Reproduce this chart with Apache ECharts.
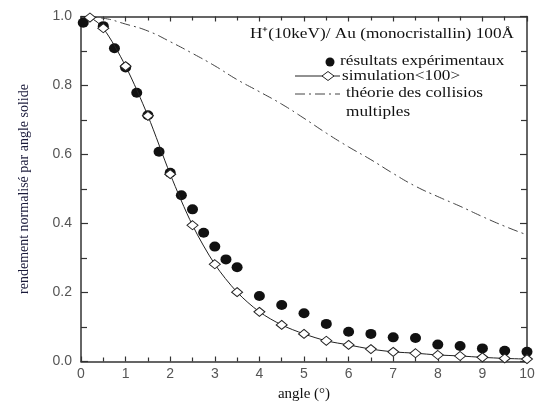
<!DOCTYPE html>
<html><head><meta charset="utf-8">
<script src="https://cdn.jsdelivr.net/npm/echarts@6/dist/echarts.min.js"></script>
<style>html,body{margin:0;padding:0;background:#fff}#c{width:539px;height:403px}</style>
</head><body><div id="c"></div>
<script>
// experimental results (filled dots)
const expX = [0.05,0.5,0.75,1.0,1.25,1.5,1.75,2.0,2.25,2.5,2.75,3.0,3.25,3.5,4,4.5,5,5.5,6,6.5,7,7.5,8,8.5,9,9.5,10];
const expY = [0.982,0.972,0.908,0.852,0.779,0.714,0.608,0.547,0.482,0.441,0.373,0.333,0.296,0.273,0.190,0.164,0.140,0.109,0.086,0.080,0.070,0.068,0.049,0.045,0.038,0.031,0.028];
// simulation <100> (open diamonds)
const simX = [0,0.2,0.5,1,1.5,2,2.5,3,3.5,4,4.5,5,5.5,6,6.5,7,7.5,8,8.5,9,9.5,10];
const simY = [1.0,0.997,0.966,0.856,0.712,0.543,0.395,0.282,0.201,0.144,0.106,0.080,0.060,0.048,0.036,0.028,0.024,0.019,0.016,0.012,0.009,0.007];
// multiple collision theory (dash-dot)
const theoX = [0,0.5,1,1.5,2,2.5,3,3.5,4,4.5,5,5.5,6,6.5,7,7.5,8,8.5,9,9.5,10];
const theoY = [1.0,0.995,0.978,0.958,0.927,0.893,0.857,0.817,0.782,0.746,0.705,0.662,0.622,0.585,0.545,0.508,0.478,0.450,0.420,0.392,0.367];
const xTicks = {min:0, max:10, interval:1};
const yTicks = {min:0, max:1, interval:0.2};

const zip = (a,b) => a.map((v,i)=>[v,b[i]]);
const axCol = '#333';
const serif = '"Liberation Serif", "Times New Roman", serif';
const sans = '"Liberation Sans", Arial, sans-serif';

const chart = echarts.init(document.getElementById('c'), null, {renderer:'canvas'});
const baseX = {type:'value', min:xTicks.min, max:xTicks.max, interval:xTicks.interval,
  axisLine:{show:true, onZero:false, lineStyle:{color:axCol, width:1.5}},
  axisTick:{show:true, inside:true, length:5, lineStyle:{color:axCol, width:1.2}},
  minorTick:{show:true, splitNumber:2, length:4, lineStyle:{color:axCol, width:1.2}},
  splitLine:{show:false}};
const baseY = {type:'value', min:yTicks.min, max:yTicks.max, interval:yTicks.interval,
  axisLine:{show:true, onZero:false, lineStyle:{color:axCol, width:1.5}},
  axisTick:{show:true, inside:true, length:7, lineStyle:{color:axCol, width:1.2}},
  minorTick:{show:true, splitNumber:2, length:6, lineStyle:{color:axCol, width:1.2}},
  splitLine:{show:false}};

const txt = (s, x, y) => ({type:'text', x:x, y:y, scaleX:1.15,
  style:{text:s, font:'15px '+serif, fill:'#111', verticalAlign:'middle'}});

chart.setOption({
  animation:false,
  backgroundColor:'#fff',
  grid:{left:81, right:12, top:16.5, bottom:41.5, containLabel:false, outerBoundsMode:'none'},
  xAxis:[
    Object.assign({}, baseX, {position:'bottom',
      axisLabel:{show:true, margin:6, color:'#555', fontFamily:sans, fontSize:14,
        formatter:v=>String(v)},
      name:'angle (°)', nameLocation:'middle', nameGap:24,
      nameTextStyle:{fontFamily:serif, fontSize:15, color:'#111'}}),
    Object.assign({}, baseX, {position:'top', axisLabel:{show:false}})
  ],
  yAxis:[
    Object.assign({}, baseY, {position:'left',
      axisLabel:{show:true, margin:9, color:'#555', fontFamily:sans, fontSize:14,
        formatter:v=>v.toFixed(1)},
      name:'rendement normalisé par angle solide', nameLocation:'middle', nameGap:50, nameRotate:90,
      nameTextStyle:{fontFamily:serif, fontSize:14, color:'#1a1a3a'}}),
    Object.assign({}, baseY, {position:'right', axisLabel:{show:false}})
  ],
  series:[
    {type:'line', name:'théorie', data:zip(theoX,theoY), smooth:true, showSymbol:false, symbol:'none',
      lineStyle:{color:'#444', width:1, type:[10,4,2,4]}, z:2},
    {type:'scatter', name:'exp', data:zip(expX,expY), symbol:'circle', symbolSize:[11,10],
      itemStyle:{color:'#111', opacity:1}, z:3, clip:true},
    {type:'line', name:'sim', data:zip(simX,simY).map((d,i)=> i===0 ? {value:d, symbol:'none'} : d),
      smooth:0.3, symbol:'diamond', symbolSize:[11,9], showAllSymbol:true,
      lineStyle:{color:'#222', width:1}, itemStyle:{color:'#fff', borderColor:'#222', borderWidth:1}, z:4}
  ],
  graphic:[
    txt('H⁺(10keV)/ Au (monocristallin) 100Å', 250, 34),
    {type:'circle', shape:{cx:330, cy:62, r:4.5}, style:{fill:'#111'}},
    txt('résultats expérimentaux', 340, 61),
    {type:'line', shape:{x1:295, y1:76, x2:340, y2:76}, style:{stroke:'#222', lineWidth:1}},
    {type:'polygon', shape:{points:[[322,76],[328,71.5],[334,76],[328,80.5]]}, style:{fill:'#fff', stroke:'#222', lineWidth:1}},
    txt('simulation<100>', 342, 76),
    {type:'line', shape:{x1:295, y1:94, x2:340, y2:94}, style:{stroke:'#444', lineWidth:1, lineDash:[10,4,2,4]}},
    txt('théorie des collisios', 346, 93),
    txt('multiples', 346, 112)
  ]
});
</script></body></html>
